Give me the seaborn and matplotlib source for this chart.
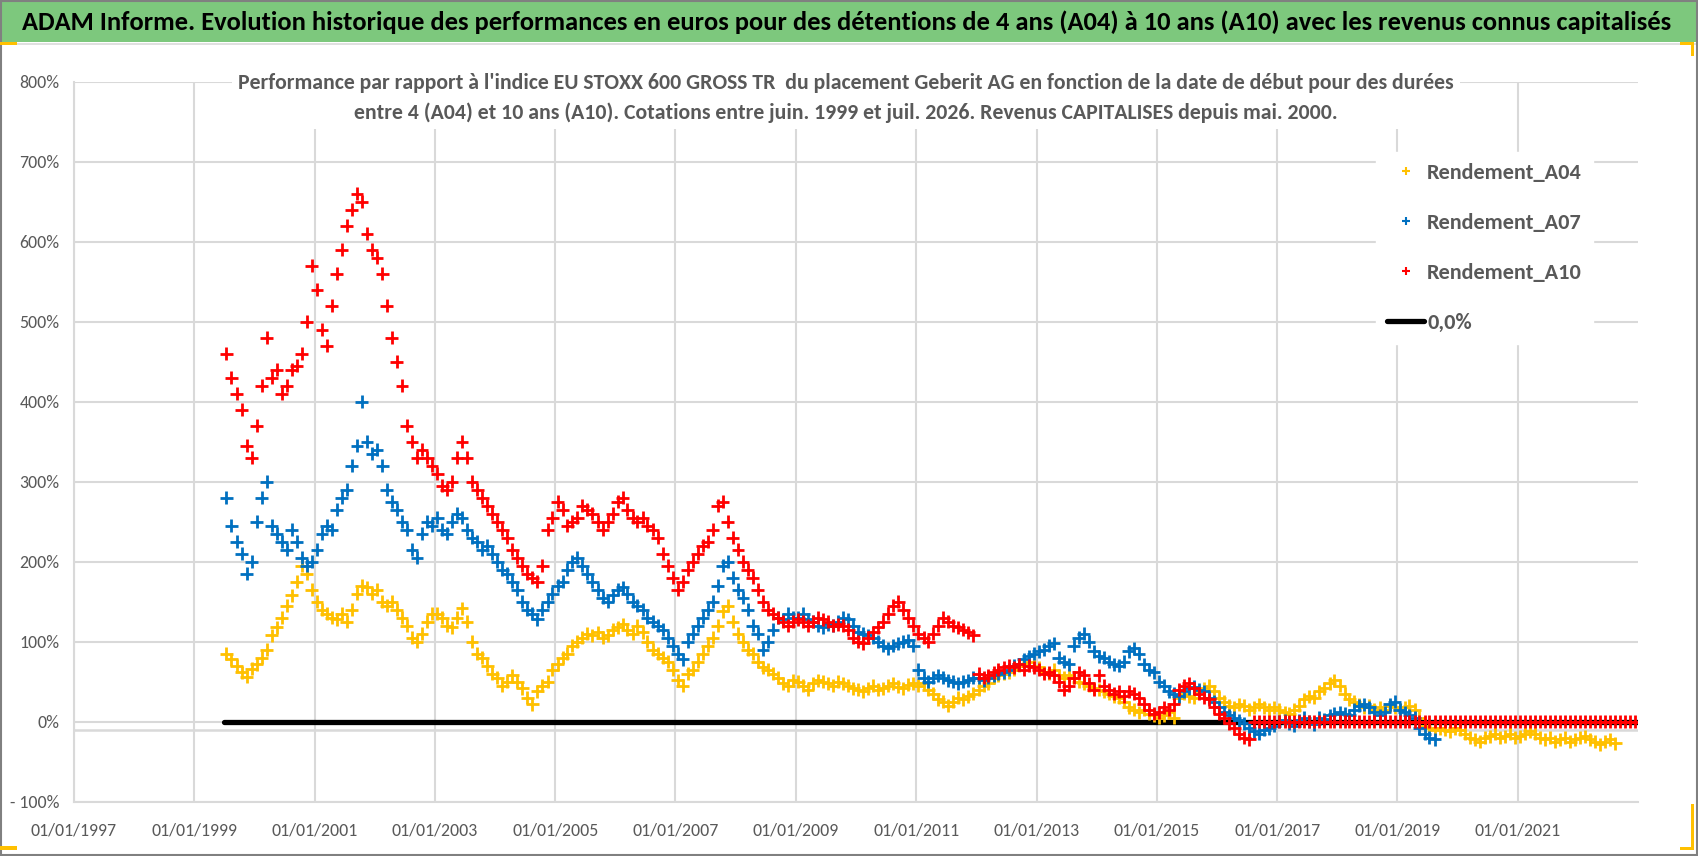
import numpy as np
import pandas as pd
import seaborn as sns
import matplotlib.pyplot as plt
from matplotlib import font_manager
from matplotlib.lines import Line2D
from matplotlib.patches import Rectangle
from matplotlib.ticker import FixedLocator, FuncFormatter

# Monthly readings (in %) taken off the chart, first value = July 1999
A04_START = "1999-07-01"
A04 = [85, 78, 70, 62, 56, 66,
       72, 80, 90, 108, 118, 130, 145, 158, 175, 195, 185, 165,
       150, 140, 135, 130, 128, 135, 125, 140, 160, 170, 168, 160,
       165, 150, 145, 150, 140, 130, 120, 105, 100, 110, 125, 135,
       135, 130, 120, 118, 130, 142, 125, 100, 85, 80, 70, 60,
       55, 45, 50, 58, 50, 42, 30, 22, 38, 45, 50, 65,
       72, 80, 85, 95, 100, 105, 110, 108, 112, 105, 108, 115,
       118, 122, 115, 110, 120, 112, 100, 90, 85, 80, 75, 65,
       52, 45, 60, 65, 75, 85, 95, 105, 120, 138, 145, 125,
       110, 100, 90, 85, 75, 68, 65, 60, 55, 48, 45, 52,
       50, 45, 40, 48, 52, 50, 48, 45, 50, 48, 45, 42,
       40, 38, 42, 45, 40, 42, 45, 48, 44, 42, 46, 48,
       45, 48, 40, 35, 28, 25, 20, 25, 30, 28, 32, 35,
       40, 45, 48, 55, 58, 60, 62, 65, 70, 72, 75, 70,
       68, 62, 60, 65, 58, 55, 58, 55, 50, 48, 45, 42,
       40, 38, 35, 32, 30, 25, 18, 15, 12, 15, 10, 8,
       5, 8, 12, 5, 30, 35, 32, 30, 38, 42, 45, 38,
       30, 25, 20, 18, 22, 20, 15, 18, 22, 18, 15, 18,
       15, 12, 10, 15, 20, 28, 32, 30, 38, 42, 48, 52,
       45, 35, 28, 25, 22, 18, 20, 15, 18, 15, 20, 18,
       15, 18, 20, 15, 5, -5, -8, -10, -8, -10, -12, -8,
       -10, -15, -20, -22, -25, -20, -18, -15, -20, -18, -15, -20,
       -18, -15, -12, -15, -20, -22, -20, -25, -22, -20, -25, -22,
       -20, -18, -22, -25, -28, -25, -22, -27]

A07_START = "1999-07-01"
A07 = [280, 245, 225, 210, 185, 200,
       250, 280, 300, 245, 235, 225, 215, 240, 225, 205, 195, 200,
       215, 235, 245, 240, 265, 280, 290, 320, 345, 400, 350, 335,
       340, 320, 290, 275, 265, 250, 240, 215, 205, 235, 250, 245,
       255, 240, 235, 250, 260, 255, 240, 230, 225, 215, 220, 210,
       200, 190, 185, 175, 165, 150, 140, 135, 128, 140, 150, 160,
       170, 175, 190, 200, 205, 195, 185, 175, 165, 155, 150, 158,
       165, 168, 160, 150, 145, 140, 130, 125, 120, 115, 105, 95,
       85, 78, 100, 110, 120, 130, 140, 150, 170, 195, 200, 180,
       165, 155, 140, 120, 110, 90, 100, 115, 130, 128, 135, 130,
       130, 135, 128, 125, 120, 118, 122, 120, 125, 130, 128, 120,
       112, 110, 108, 105, 100, 95, 92, 95, 98, 100, 102, 95,
       65, 55, 50, 55, 58, 55, 52, 50, 48, 50, 52, 55,
       55, 52, 55, 58, 60, 62, 65, 70, 72, 78, 82, 85,
       88, 90, 95, 98, 80, 75, 72, 95, 105, 110, 100, 88,
       82, 80, 75, 72, 70, 75, 88, 92, 85, 72, 65, 62,
       50, 45, 38, 35, 32, 38, 42, 44, 40, 38, 30, 25,
       18, 12, 8, 5, 2, -2, -8, -12, -15, -10, -8, -5,
       0, 2, -2, -5, 2, 5, 0, -3, 5, 3, 8, 10,
       12, 10, 8, 15, 20, 22, 18, 12, 8, 12, 22, 25,
       15, 12, 8, 5, -8, -15, -20, -22]

A10_START = "1999-07-01"
A10 = [460, 430, 410, 390, 345, 330,
       370, 420, 480, 430, 440, 410, 420, 440, 445, 460, 500, 570,
       540, 490, 470, 520, 560, 590, 620, 640, 660, 650, 610, 590,
       580, 560, 520, 480, 450, 420, 370, 350, 330, 340, 330, 320,
       310, 295, 290, 300, 330, 350, 330, 300, 290, 280, 270, 260,
       250, 240, 230, 215, 205, 195, 185, 180, 175, 195, 240, 255,
       275, 265, 245, 250, 255, 270, 265, 260, 250, 240, 250, 260,
       275, 280, 265, 255, 250, 255, 245, 240, 230, 210, 195, 180,
       165, 175, 190, 200, 210, 220, 225, 240, 270, 275, 250, 230,
       215, 200, 190, 180, 165, 150, 140, 135, 130, 125, 120, 125,
       128, 125, 120, 125, 130, 128, 125, 120, 122, 120, 115, 105,
       100, 98, 105, 112, 118, 125, 135, 145, 150, 140, 130, 120,
       110, 105, 100, 110, 120, 130, 125, 120, 118, 115, 112, 108,
       60, 55, 58, 62, 65, 68, 70, 68, 72, 65, 70, 68,
       65, 60, 62, 58, 50, 40, 45, 55, 62, 58, 48, 40,
       58, 45, 40, 35, 38, 32, 38, 35, 30, 22, 15, 10,
       12, 18, 15, 22, 40, 45, 48, 42, 35, 30, 28, 18,
       10, 5, -2, -8, -15, -20, -22, 0, 0, 0, 0, 0,
       0, 0, 0, 0, 0, 0, 0, 0, 0, 0, 0, 0,
       0, 0, 0, 0, 0, 0, 0, 0, 0, 0, 0, 0,
       0, 0, 0, 0, 0, 0, 0, 0, 0, 0, 0, 0,
       0, 0, 0, 0, 0, 0, 0, 0, 0, 0, 0, 0,
       0, 0, 0, 0, 0, 0, 0, 0, 0, 0, 0, 0,
       0, 0, 0, 0, 0, 0, 0, 0, 0, 0, 0, 0]

ZERO_DATES = ["1999-07-01", "2022-12-31"]
ZERO_VALUES = [0, 0]

SERIES = ["Rendement_A04", "Rendement_A07", "Rendement_A10"]
COLORS = ["#FFC000", "#0070C0", "#FF0000"]

Y_TICKS = [-100, 0, 100, 200, 300, 400, 500, 600, 700, 800]
X_TICK_YEARS = [1997, 1999, 2001, 2003, 2005, 2007, 2009, 2011, 2013, 2015, 2017, 2019, 2021]

TITLE = ("ADAM Informe. Evolution historique des performances en euros pour des détentions "
         "de 4 ans (A04) à 10 ans (A10) avec les revenus connus capitalisés")
SUBTITLE = ("Performance par rapport à l'indice EU STOXX 600 GROSS TR  du placement Geberit AG "
            "en fonction de la date de début pour des durées\n"
            "entre 4 (A04) et 10 ans (A10). Cotations entre juin. 1999 et juil. 2026. "
            "Revenus CAPITALISES depuis mai. 2000.")

W, H = 1698, 856


def monthly_frame(start, values, name):
    dates = pd.date_range(start, periods=len(values), freq="MS") + pd.Timedelta(days=14)
    return pd.DataFrame({"date": dates, "value": values, "serie": name})


def fit_width(txt, target_px, renderer):
    # scale the font so the drawn text spans the same width as in the reference
    w = txt.get_window_extent(renderer).width
    txt.set_fontsize(txt.get_fontsize() * target_px / w)


def fitted_size(s, target_px, renderer, **kw):
    probe = plt.gcf().text(0, 0, s, fontsize=14, **kw)
    fit_width(probe, target_px, renderer)
    fs = probe.get_fontsize()
    probe.remove()
    return fs


sns.set_theme(style="white")
names = {f.name for f in font_manager.fontManager.ttflist}
fam = next((n for n in ["Carlito", "Lato"] if n in names), "DejaVu Sans")
plt.rcParams["font.family"] = [fam, "DejaVu Sans"]

df = pd.concat([monthly_frame(A04_START, A04, SERIES[0]),
                monthly_frame(A07_START, A07, SERIES[1]),
                monthly_frame(A10_START, A10, SERIES[2])], ignore_index=True)

fig = plt.figure(figsize=(W / 100, H / 100), dpi=100)
ax = fig.add_axes([74 / W, 1 - 801.7 / H, 1564 / W, 720 / H])
renderer = fig.canvas.get_renderer()

grey = "#595959"
gridc = "#D9D9D9"

# zero reference line (drawn under the points)
sns.lineplot(x=pd.to_datetime(ZERO_DATES), y=ZERO_VALUES, ax=ax, color="black",
             linewidth=3.8, zorder=2)
ax.axhline(-10, color=gridc, linewidth=1.8, zorder=1)

sns.scatterplot(data=df, x="date", y="value", hue="serie", hue_order=SERIES,
                palette=COLORS, marker="+", s=85, linewidth=2.0, legend=False,
                ax=ax, zorder=3)

ax.set_xlim(pd.Timestamp("1997-01-01"), pd.Timestamp("2023-01-01"))
ax.set_ylim(-100, 800)
ax.yaxis.set_major_locator(FixedLocator(Y_TICKS))
ax.yaxis.set_major_formatter(FuncFormatter(lambda v, p: f"{v:.0f}%" if v >= 0 else f"- {abs(v):.0f}%"))
xt = [pd.Timestamp(f"{y}-01-01") for y in X_TICK_YEARS]
ax.set_xticks(xt)
ax.set_xticklabels([t.strftime("%d/%m/%Y") for t in xt])
ax.grid(True, color=gridc, linewidth=1.5, zorder=0)
ax.set_axisbelow(True)
for side in ["top", "right"]:
    ax.spines[side].set_visible(False)
for side in ["left", "bottom"]:
    ax.spines[side].set_color(gridc)
    ax.spines[side].set_linewidth(1.5)
ax.set_xlabel("")
ax.set_ylabel("")

tick_fs = fitted_size("01/01/1997", 86, renderer)
ax.tick_params(axis="y", labelsize=tick_fs, colors=grey, pad=10.5, length=0)
ax.tick_params(axis="x", labelsize=tick_fs, colors=grey, pad=15, length=0)

# banner and frame
fig.patches.append(Rectangle((0, 1 - 42 / H), 1, 42 / H, transform=fig.transFigure,
                             facecolor="#7DC87D", edgecolor="none", zorder=0))
fig.patches.append(Rectangle((0, 1 - 45 / H), 1, 2 / H, transform=fig.transFigure,
                             facecolor="#E0E0E0", edgecolor="none", zorder=0))
fig.patches.append(Rectangle((0.0005, 0.001), 0.999, 0.998, transform=fig.transFigure,
                             fill=False, edgecolor="#808080", linewidth=1.5, zorder=5))
for (x0, y0, w, h) in [(0, 1 - 45 / H, 17 / W, 3 / H),
                       (0, 6 / H, 17 / W, 4 / H),
                       (1680 / W, 1 - 45 / H, 14 / W, 3 / H),
                       (1691 / W, 1 - 56 / H, 3 / W, 14 / H),
                       (1691 / W, 6 / H, 3 / W, 46 / H),
                       (1680 / W, 6 / H, 14 / W, 3 / H)]:
    fig.patches.append(Rectangle((x0, y0), w, h, transform=fig.transFigure,
                                 facecolor="#FFC000", edgecolor="none", zorder=6))

title = fig.text(22 / W, 1 - 22 / H, TITLE, fontsize=18, fontweight="bold",
                 color="black", va="center", ha="left")
fit_width(title, 1646, renderer)

sub = fig.text(846 / W, 1 - 98 / H, SUBTITLE, fontsize=15, fontweight="bold",
               color=grey, va="center", ha="center", linespacing=1.6,
               bbox=dict(facecolor="white", edgecolor="none", pad=4))
fit_width(sub, 1221, renderer)

# legend
handles = [Line2D([], [], marker="+", color=c, linestyle="", markersize=6, markeredgewidth=1.5)
           for c in COLORS]
handles.append(Line2D([], [], color="black", linewidth=3.8))
leg_fs = fitted_size("Rendement_A04", 156, renderer, fontweight="bold")
leg_px = leg_fs * 100 / 72


def make_legend(spacing, anchor):
    lg = fig.legend(handles, SERIES + ["0,0%"], loc="upper left", bbox_to_anchor=anchor,
                    frameon=True, facecolor="white", edgecolor="white", framealpha=1,
                    fontsize=leg_fs, handlelength=37 / leg_px, handletextpad=3 / leg_px,
                    labelspacing=spacing, borderpad=0.5)
    for t in lg.get_texts():
        t.set_color(grey)
        t.set_fontweight("bold")
    return lg


leg = make_legend(1.0, (1383 / W, 1 - 150 / H))
fig.canvas.draw()
boxes = [t.get_window_extent(renderer) for t in leg.get_texts()]
pitch = (boxes[0].y0 - boxes[-1].y0) / 3
leg.remove()
leg = make_legend(1.0 + (50 - pitch) / leg_px, (1383 / W, 1 - 150 / H))
fig.canvas.draw()
bb = leg.get_texts()[0].get_window_extent(renderer)
dx = 1427 - bb.x0
dy = (H - 173) - (bb.y0 + bb.y1) / 2
leg.set_bbox_to_anchor(((1383 + dx) / W, 1 - (150 - dy) / H), transform=fig.transFigure)

fig.savefig("out.png", dpi=100)
